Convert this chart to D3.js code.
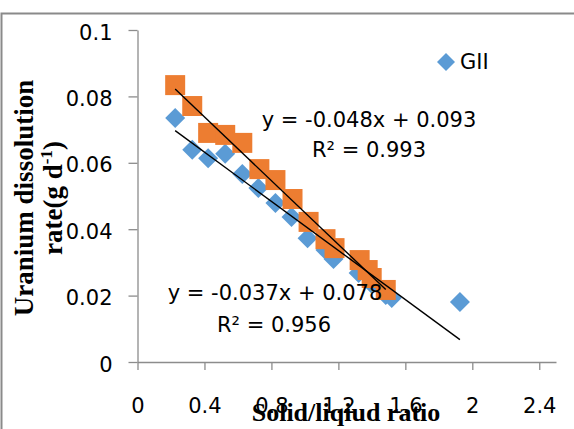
<!DOCTYPE html>
<html>
<head>
<meta charset="utf-8">
<script src="https://cdn.jsdelivr.net/npm/d3@7"></script>
<style>
  body { margin: 0; background: #fff; }
  svg { display: block; }
</style>
</head>
<body>
<div id="chart"></div>
<script>
// values
const giiX = [0.225, 0.327, 0.422, 0.524, 0.626, 0.722, 0.824, 0.920, 1.016, 1.123, 1.171, 1.321, 1.40, 1.483, 1.519, 1.926];
const giiY = [0.0735, 0.0639, 0.0614, 0.0627, 0.0566, 0.0524, 0.0479, 0.0437, 0.0373, 0.0337, 0.0310, 0.0268, 0.0235, 0.0202, 0.0193, 0.0181];
const orangeX = [0.225, 0.327, 0.422, 0.524, 0.626, 0.728, 0.824, 0.926, 1.022, 1.123, 1.177, 1.327, 1.375, 1.399, 1.483];
const orangeY = [0.0834, 0.0771, 0.0690, 0.0684, 0.0660, 0.0581, 0.0548, 0.0491, 0.0422, 0.0370, 0.0343, 0.0307, 0.0277, 0.0253, 0.0217];
// trend lines [slope, intercept]
const giiTrend = [-0.037, 0.078];
const orangeTrend = [-0.048, 0.093];
const xTicks = [0, 0.4, 0.8, 1.2, 1.6, 2, 2.4];
const yTicks = [0, 0.02, 0.04, 0.06, 0.08, 0.1];

const width = 574, height = 429;

const svg = d3.select("#chart")
    .append("svg")
    .attr("width", width)
    .attr("height", height);

// outer chart border (runs off the right and bottom edges)
svg.append("rect")
    .attr("x", 1.5)
    .attr("y", 13.5)
    .attr("width", 600)
    .attr("height", 450)
    .style("fill", "none")
    .style("stroke", "#8a8a8a")
    .style("stroke-width", 2);

const x = d3.scaleLinear().domain([0, 2.5]).range([137.5, 556]);
const y = d3.scaleLinear().domain([0, 0.1]).range([362, 30]);

const tickFont = "'DejaVu Sans', sans-serif";

const xAxis = svg.append("g")
    .attr("transform", `translate(0,${y(0)})`)
    .call(d3.axisBottom(x).tickValues(xTicks).tickSizeInner(8).tickSizeOuter(0).tickPadding(28.4)
        .tickFormat(d3.format("")));
const yAxis = svg.append("g")
    .attr("transform", `translate(${x(0)},0)`)
    .call(d3.axisLeft(y).tickValues(yTicks).tickSizeInner(9).tickSizeOuter(0).tickPadding(16)
        .tickFormat(d3.format("")));

[xAxis, yAxis].forEach(g => {
    g.select(".domain").style("stroke", "#8c8c8c").style("stroke-width", 1.3);
    g.selectAll(".tick line").style("stroke", "#8c8c8c").style("stroke-width", 1.3);
    g.selectAll(".tick text")
        .style("font-family", tickFont)
        .style("font-size", "21px")
        .style("fill", "#000");
});
yAxis.selectAll(".tick text").attr("dy", "0.43em");

// GII diamonds
const diamond = d3.symbol().type(d3.symbolSquare).size(200);
svg.append("g").selectAll("path")
    .data(giiX.map((v, i) => [v, giiY[i]]))
    .enter().append("path")
    .attr("d", diamond)
    .attr("transform", d => `translate(${x(d[0])},${y(d[1])}) rotate(45)`)
    .style("fill", "#5b9bd5");

// second series squares
const square = d3.symbol().type(d3.symbolSquare).size(400);
svg.append("g").selectAll("path")
    .data(orangeX.map((v, i) => [v, orangeY[i]]))
    .enter().append("path")
    .attr("d", square)
    .attr("transform", d => `translate(${x(d[0])},${y(d[1])})`)
    .style("fill", "#ed7d31");

// linear trend lines over each series' x range
const trendLine = d3.line().x(d => x(d[0])).y(d => y(d[1]));
[[orangeX, orangeTrend], [giiX, giiTrend]].forEach(([xs, t]) => {
    const ext = d3.extent(xs);
    svg.append("path")
        .datum(ext.map(v => [v, t[0] * v + t[1]]))
        .attr("d", trendLine)
        .style("fill", "none")
        .style("stroke", "#000")
        .style("stroke-width", 1.4);
});

// equation labels
function eqLabel(cx, by, txt) {
    svg.append("text")
        .attr("x", cx)
        .attr("y", by)
        .attr("text-anchor", "middle")
        .style("font-family", tickFont)
        .style("font-size", "21px")
        .style("fill", "#000")
        .text(txt);
}
eqLabel(369, 126.5, "y = -0.048x + 0.093");
eqLabel(369, 156.5, "R² = 0.993");
eqLabel(275, 300, "y = -0.037x + 0.078");
eqLabel(274, 331.5, "R² = 0.956");

// legend
svg.append("path")
    .attr("d", d3.symbol().type(d3.symbolSquare).size(162))
    .attr("transform", "translate(446,62) rotate(45)")
    .style("fill", "#5b9bd5");
svg.append("text")
    .attr("x", 460)
    .attr("y", 69)
    .style("font-family", tickFont)
    .style("font-size", "21px")
    .style("fill", "#000")
    .text("GII");

// axis titles
const titleFont = "'Liberation Serif', 'Times New Roman', serif";
svg.append("text")
    .attr("x", 346)
    .attr("y", 421)
    .attr("text-anchor", "middle")
    .style("font-family", titleFont)
    .style("font-weight", "bold")
    .style("font-size", "26px")
    .text("Solid/liqiud ratio");

const yTitle = svg.append("text")
    .attr("transform", "translate(33,198) rotate(-90)")
    .attr("text-anchor", "middle")
    .style("font-family", titleFont)
    .style("font-weight", "bold")
    .style("font-size", "27px");
yTitle.append("tspan")
    .attr("x", 0)
    .attr("y", 0)
    .text("Uranium dissolution");
const line2 = yTitle.append("tspan")
    .attr("x", 0)
    .attr("y", 29)
    .text("rate(g d");
line2.append("tspan")
    .attr("dy", -10)
    .style("font-size", "17px")
    .text("-1");
line2.append("tspan")
    .attr("dy", 10)
    .text(")");
</script>
</body>
</html>
